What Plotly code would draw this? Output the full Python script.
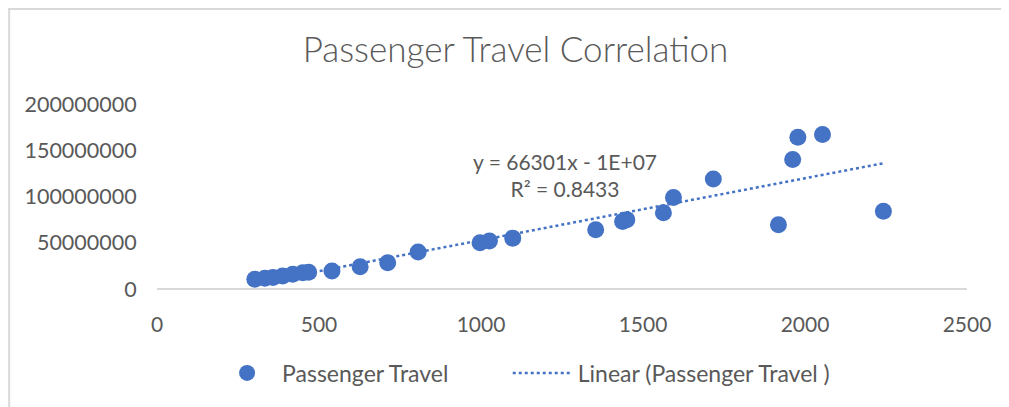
import numpy as np
import plotly.graph_objects as go

# Data
distance = [302, 333, 358, 388, 419, 450, 468, 540, 627, 712, 806, 997, 1026, 1098,
            1354, 1437, 1450, 1563, 1594, 1717, 1918, 1962, 1978, 2054, 2242]
passengers = [10.5e6, 11.5e6, 12.5e6, 14e6, 16e6, 17.5e6, 18e6, 19.5e6, 24e6, 28.5e6,
              40e6, 50e6, 52e6, 55e6, 64e6, 73e6, 75e6, 82.5e6, 99e6, 119e6, 69.5e6,
              140e6, 164e6, 167e6, 84e6]
x_ticks = [0, 500, 1000, 1500, 2000, 2500]
y_ticks = [0, 50000000, 100000000, 150000000, 200000000]
title_text = "Passenger Travel Correlation"
series_name = "Passenger Travel"
trend_name = "Linear (Passenger Travel )"
equation_text = "y = 66301x - 1E+07<br>R² = 0.8433"

slope, intercept = np.polyfit(distance, passengers, 1)
tx = [min(distance), max(distance)]
ty = [slope * v + intercept for v in tx]

BLUE = "#4472C4"
GRAY = "#595959"
FONT = "Lato"

fig = go.Figure()
fig.add_trace(go.Scatter(x=distance, y=passengers, mode="markers", name=series_name,
                         marker=dict(color=BLUE, size=17), legend="legend",
                         showlegend=True))
fig.add_trace(go.Scatter(x=tx, y=ty, mode="lines", name=trend_name,
                         line=dict(color=BLUE, width=2.5, dash="dot"), legend="legend2",
                         showlegend=True))

fig.add_annotation(x=1259, y=123e6, text=equation_text, showarrow=False,
                   font=dict(family=FONT, size=21, color=GRAY), align="center")

legend_common = dict(orientation="h", y=-0.454, yanchor="middle", xanchor="left",
                     font=dict(family=FONT, size=23, color=GRAY), itemwidth=60,
                     bgcolor="rgba(0,0,0,0)")

fig.update_layout(
    width=1001, height=399,
    showlegend=True,
    margin=dict(l=149, r=42, t=96, b=118, autoexpand=False),
    paper_bgcolor="white", plot_bgcolor="white",
    font=dict(family=FONT, size=21, color=GRAY),
    title=dict(text=title_text, x=0.507, xanchor="center", y=0.8947, yanchor="middle",
               font=dict(family=FONT, size=35, color=GRAY, weight=300)),
    xaxis=dict(range=[0, 2500], tickvals=x_ticks, ticktext=[str(v) for v in x_ticks],
               showgrid=False, zeroline=False, showline=False, automargin=False,
               ticks="outside", ticklen=17, tickcolor="rgba(0,0,0,0)",
               tickfont=dict(size=21, color=GRAY)),
    yaxis=dict(range=[0, 200e6], tickvals=y_ticks, ticktext=[str(v) for v in y_ticks],
               showgrid=False, zeroline=True, zerolinecolor="#d9d9d9", zerolinewidth=2,
               showline=False, automargin=False,
               ticks="outside", ticklen=15, tickcolor="rgba(0,0,0,0)",
               tickfont=dict(size=21.5, color=GRAY)),
    legend=dict(x=0.068, **legend_common),
    legend2=dict(x=0.433, **legend_common),
    shapes=[
        dict(type="line", xref="paper", yref="paper", x0=-0.1825, x1=-0.1825, y0=-1, y1=1.6,
             line=dict(color="#d9d9d9", width=2)),
        dict(type="line", xref="paper", yref="paper", x0=-0.19, x1=1.3, y0=1.514, y1=1.514,
             line=dict(color="#d9d9d9", width=2)),
    ],
)

fig.write_html("out.html")
